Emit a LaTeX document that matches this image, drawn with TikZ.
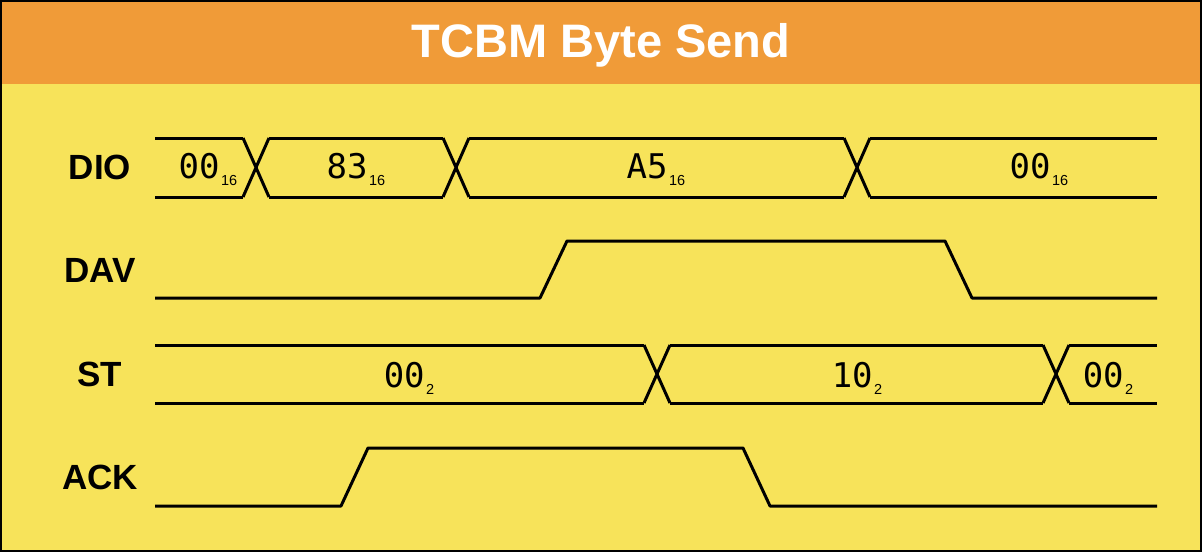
\documentclass[tikz,border=0pt]{standalone}
\usepackage{fontspec}
\setmainfont{Liberation Sans}
\newfontfamily\valfont{DejaVu Sans Mono}
\definecolor{bandorange}{HTML}{F09B38}
\definecolor{bgyellow}{HTML}{F7E35A}

% value with a subscript base
\newcommand{\busval}[2]{{\valfont #1}\hspace{1.5pt}\raisebox{-7pt}{\fontsize{14.5}{14.5}\selectfont #2}}

\begin{document}
\begin{tikzpicture}[x=1pt,y=-1pt,
   sig/.style={line width=3pt,line join=round,line cap=butt},
   lbl/.style={font=\fontsize{35}{35}\selectfont\bfseries},
   val/.style={font=\fontsize{34}{34}\selectfont,anchor=base,inner sep=0pt}]

% background and title band
\fill[bgyellow] (0,0) rectangle (1202,552);
\fill[bandorange] (0,0) rectangle (1202,84);
\draw[line width=2pt] (1,1) rectangle (1201,551);
\node[text=white,font=\fontsize{47}{47}\selectfont\bfseries,anchor=base,inner sep=0pt] (title) at (601,57) {TCBM Byte Send};

% signal names
\node[lbl] (dio) at (100,167) {DIO};
\node[lbl] (dav) at (100,270) {DAV};
\node[lbl] (st)  at (100,374) {ST};
\node[lbl] (ack) at (100,477) {ACK};

% DIO bus
\draw[sig] (155,138) -- (243,138) (269,138) -- (443,138) (469,138) -- (844,138) (870,138) -- (1157,138);
\draw[sig] (155,197) -- (243,197) (269,197) -- (443,197) (469,197) -- (844,197) (870,197) -- (1157,197);
\foreach \c in {256,456,857}
  \draw[sig] (\c-13,138) -- (\c+13,197) (\c-13,197) -- (\c+13,138);
\node[val] (dio0) at (208,178) {\busval{00}{16}};
\node[val] (dio1) at (356,178) {\busval{83}{16}};
\node[val] (dio2) at (656,178) {\busval{A5}{16}};
\node[val] (dio3) at (1039,178) {\busval{00}{16}};

% DAV
\draw[sig] (155,298) -- (540,298) -- (567,241) -- (945,241) -- (972,298) -- (1157,298);

% ST bus
\draw[sig] (155,345) -- (644,345) (670,345) -- (1043,345) (1069,345) -- (1157,345);
\draw[sig] (155,403) -- (644,403) (670,403) -- (1043,403) (1069,403) -- (1157,403);
\foreach \c in {657,1056}
  \draw[sig] (\c-13,345) -- (\c+13,403) (\c-13,403) -- (\c+13,345);
\node[val] (st0) at (409,387) {\busval{00}{2}};
\node[val] (st1) at (857,387) {\busval{10}{2}};
\node[val] (st2) at (1108,387) {\busval{00}{2}};

% ACK
\draw[sig] (155,506) -- (341,506) -- (368,448) -- (743,448) -- (770,506) -- (1157,506);

\end{tikzpicture}
\end{document}
